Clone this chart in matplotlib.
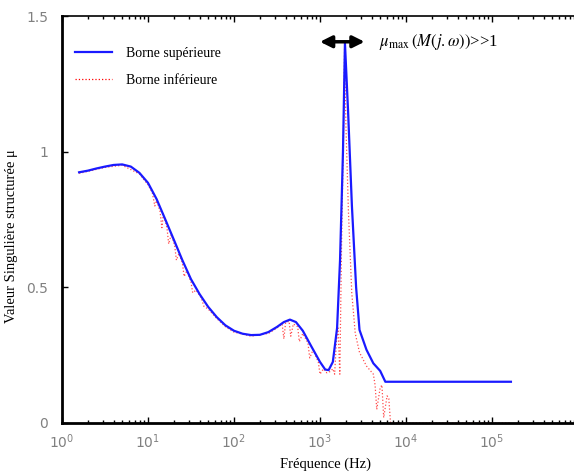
import matplotlib
matplotlib.use("Agg")
import matplotlib.pyplot as plt

# Upper bound (blue) - frequency in Hz, structured singular value
freq_upper = [1.58, 2.0, 2.51, 3.16, 3.98, 5.01, 6.31, 7.94, 10.0, 12.6, 15.8, 20.0,
              25.1, 31.6, 39.8, 50.1, 63.1, 79.4, 100, 126, 158, 200, 251, 316,
              380, 447, 525, 631, 794, 1000, 1150, 1260, 1410, 1580, 1710, 1850,
              1950, 2120, 2350, 2630, 2880, 3470, 4170, 5010, 5750, 166000]
mu_upper = [0.924, 0.930, 0.938, 0.945, 0.951, 0.953, 0.945, 0.922, 0.885, 0.825,
            0.752, 0.675, 0.600, 0.530, 0.475, 0.428, 0.390, 0.360, 0.340, 0.329,
            0.324, 0.325, 0.335, 0.354, 0.372, 0.381, 0.372, 0.340, 0.282, 0.225,
            0.197, 0.195, 0.225, 0.350, 0.600, 1.000, 1.400, 1.150, 0.800, 0.500,
            0.343, 0.270, 0.220, 0.192, 0.152, 0.152]

# Lower bound (red dotted)
freq_lower = [1.58, 3.16, 5.01, 7.94, 10.0, 11.2, 12.0, 12.6, 13.8, 14.5, 15.1,
              16.6, 17.4, 18.6, 20.4, 21.4, 22.9, 25.1, 26.3, 28.2, 31.6, 33.1,
              36.3, 41.7, 44.7, 50.1, 63.1, 79.4, 100, 158, 251, 316, 363, 380,
              398, 437, 457, 490, 550, 575, 631, 724, 759, 832, 955, 1000, 1100,
              1200, 1320, 1410, 1480, 1550, 1620, 1700, 1780, 1860, 1930, 2000,
              2140, 2340, 2570, 2880, 3470, 4170, 4370, 4570, 5010, 5250, 5500,
              6030, 6310, 6610, 166000]
mu_lower = [0.920, 0.942, 0.950, 0.918, 0.878, 0.850, 0.800, 0.820, 0.780, 0.720,
            0.770, 0.720, 0.660, 0.695, 0.655, 0.600, 0.625, 0.590, 0.540, 0.560,
            0.520, 0.480, 0.490, 0.460, 0.430, 0.420, 0.385, 0.355, 0.335, 0.320,
            0.330, 0.350, 0.365, 0.310, 0.370, 0.375, 0.320, 0.365, 0.355, 0.300,
            0.330, 0.295, 0.240, 0.270, 0.225, 0.180, 0.200, 0.185, 0.190, 0.200,
            0.180, 0.300, 0.350, 0.180, 0.650, 1.000, 1.380, 1.100, 0.780, 0.480,
            0.330, 0.260, 0.210, 0.180, 0.140, 0.050, 0.130, 0.140, 0.020, 0.100,
            0.090, 0.000, 0.000]

plt.rcParams["mathtext.fontset"] = "stix"

fig = plt.figure(figsize=(5.74, 4.74), dpi=100)
ax = fig.add_axes([62/574, 51/474, 516/574, 407/474])

ax.plot(freq_upper, mu_upper, color="#1a1aff", lw=1.6, label="Borne supérieure", zorder=3)
ax.plot(freq_lower, mu_lower, color="red", lw=0.9, ls=":", alpha=0.7,
        label="Borne inférieure", zorder=2)

ax.set_xscale("log")
ax.set_xlim(1, 1e6)
ax.set_ylim(0, 1.5)
ax.set_yticks([0, 0.5, 1, 1.5])
ax.set_yticklabels(["0", "0.5", "1", "1.5"])
ax.set_xticks([1, 10, 100, 1e3, 1e4, 1e5])

for s in ["left", "bottom"]:
    ax.spines[s].set_linewidth(2)
ax.spines["top"].set_linewidth(1.2)
ax.spines["right"].set_visible(False)
ax.tick_params(which="both", direction="in", top=True, right=False,
               labelcolor="#808080", labelsize=10, color="black")
ax.tick_params(which="major", length=4, width=1)
ax.tick_params(which="minor", length=2, width=1)
ax.tick_params(axis="y", pad=10)
ax.tick_params(axis="x", pad=7)

serif = ["Liberation Serif", "DejaVu Serif"]
ax.set_xlabel("Fréquence (Hz)", fontsize=10.5, family=serif)
ax.xaxis.set_label_coords(0.51, -0.085)
ax.set_ylabel("Valeur Singulière structurée μ", fontsize=10.5, family=serif)
ax.yaxis.set_label_coords(-0.085, 0.46)

leg = ax.legend(loc="upper left", bbox_to_anchor=(0.0, 0.955), frameon=False,
                prop={"family": serif, "size": 10}, handlelength=2.7,
                labelspacing=1.0, handletextpad=1.0)
leg.get_lines()[1].set_alpha(1.0)

ax.annotate("", xy=(3.3e3, 1.405), xytext=(1.0e3, 1.405),
            arrowprops=dict(arrowstyle="<|-|>,head_length=0.7,head_width=0.35",
                            lw=2.5, color="black", shrinkA=0, shrinkB=0))
ax.text(4.8e3, 1.405, r"$\mu_{\max}\,\left(M\left(j.\omega\right)\right)$>>1",
        fontsize=12, va="center", ha="left", family=serif)

fig.savefig("out.png", dpi=100)
